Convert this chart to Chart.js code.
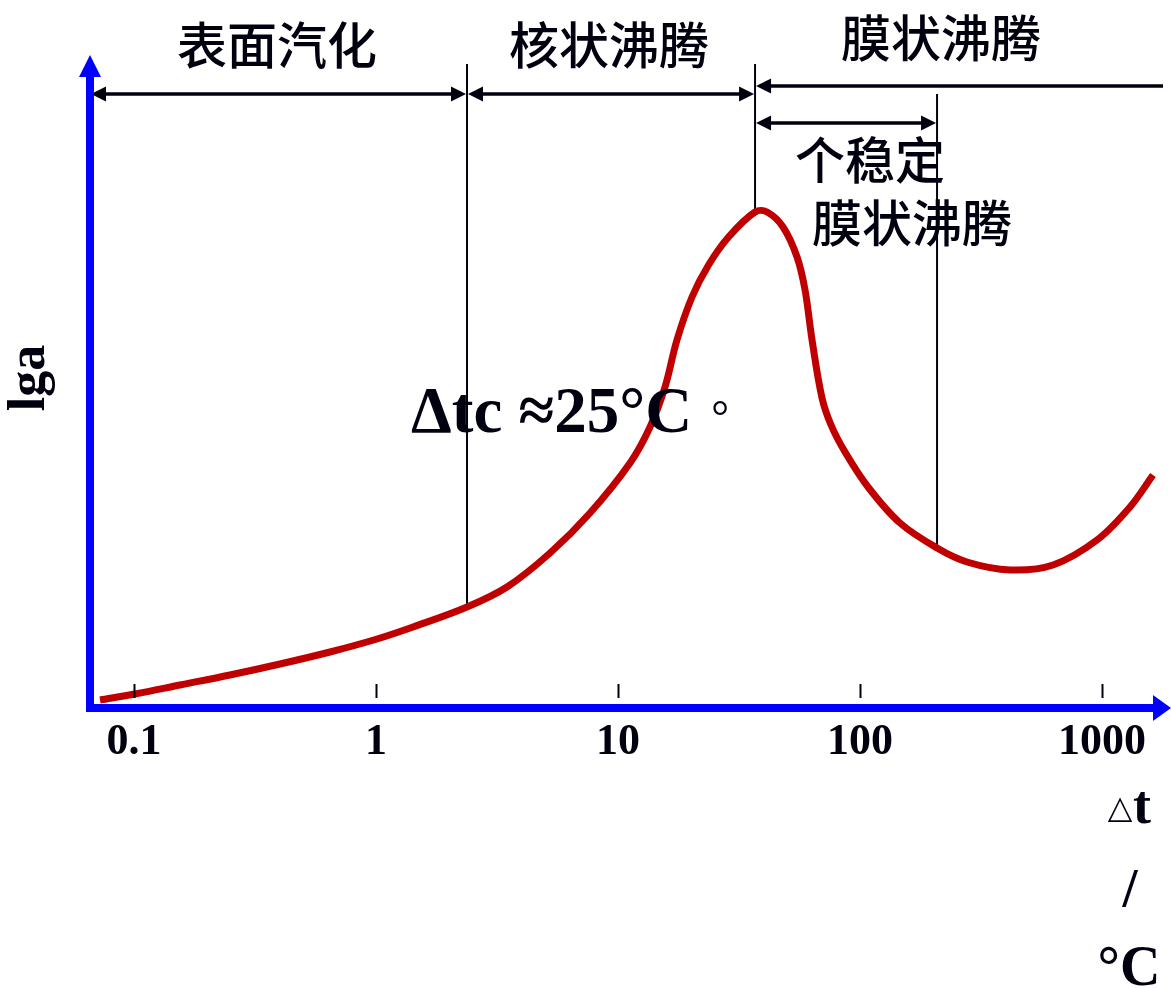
<!DOCTYPE html>
<html><head><meta charset="utf-8">
<script src="https://cdn.jsdelivr.net/npm/chart.js@4/dist/chart.umd.min.js"></script>
<style>html,body{margin:0;padding:0;background:#fff;}canvas{display:block;}</style>
</head><body>
<canvas id="c" width="1171" height="989"></canvas>
<script>
// ---- data ----
const deltaT = [0.0724,0.1009,0.1549,0.2492,0.4012,0.6455,1.01,1.422,2.377,3.478,5.236,7.66,11.21,13.56,15.64,17.52,20.22,23.66,28.62,36.83,41.28,48.07,54.93,59.27,63.35,69.66,75.9,86.7,107.9,146.3,208.1,276.8,416.7,627.3,953.4,1305,1624];
const lgAlpha = [0.5,1.1,2.0,3.0,4.1,5.3,6.6,7.8,9.8,11.8,15.2,19.2,24.2,27.8,31.8,36.5,40.8,44.0,46.8,49.3,49.3,47.8,44.8,41.5,36.5,30.7,28.0,25.3,21.8,18.2,15.7,14.3,13.5,14.0,16.5,19.8,23.0];
const tickValues = [0.1,1,10,100,1000];
const tickLabels = ['0.1','1','10','100','1000'];
const regionLabels = ['表面汽化','核状沸腾','膜状沸腾'];
const unstableLabel = ['个稳定','膜状沸腾'];
const boundaryValues = [2.377,36.83,208.1];
const criticalText = 'Δtc ≈25°C';
const yTitle = 'lga';
const xTitle = ['△t','/','°C'];
const xRange = [0.06579,1736];
const yRange = [0,65];

const INK = '#00000f';
const BLUE = '#0000ff';

function arrow(ctx,x1,x2,y,left,right){
  ctx.save();
  ctx.strokeStyle=INK;ctx.fillStyle=INK;ctx.lineWidth=3.5;
  ctx.beginPath();ctx.moveTo(x1+(left?6:0),y);ctx.lineTo(x2-(right?6:0),y);ctx.stroke();
  const L=15,H=7.5;
  if(left){ctx.beginPath();ctx.moveTo(x1,y);ctx.lineTo(x1+L,y-H);ctx.lineTo(x1+L,y+H);ctx.closePath();ctx.fill();}
  if(right){ctx.beginPath();ctx.moveTo(x2,y);ctx.lineTo(x2-L,y-H);ctx.lineTo(x2-L,y+H);ctx.closePath();ctx.fill();}
  ctx.restore();
}

const decor = {
  id:'decor',
  beforeDatasetsDraw(chart){
    const ctx=chart.ctx, xs=chart.scales.x, ys=chart.scales.y;
    const meta=chart.getDatasetMeta(0);
    const bx=boundaryValues.map(v=>xs.getPixelForValue(v));
    const bottoms=boundaryValues.map(v=>meta.data[deltaT.indexOf(v)].y);
    ctx.save();
    ctx.strokeStyle=INK;ctx.lineWidth=2;
    const tops=[ys.getPixelForValue(64.1),ys.getPixelForValue(64.1),ys.getPixelForValue(61.1)];
    for(let i=0;i<3;i++){ctx.beginPath();ctx.moveTo(bx[i],tops[i]);ctx.lineTo(bx[i],bottoms[i]);ctx.stroke();}
    ctx.restore();
    const yA=ys.getPixelForValue(61.1), yB=ys.getPixelForValue(61.9), yC=ys.getPixelForValue(58.2);
    const x0=chart.chartArea.left+1;
    arrow(ctx,x0,bx[0]-1,yA,true,true);
    arrow(ctx,bx[0]+1,bx[1]-1,yA,true,true);
    arrow(ctx,bx[1]+1,1163,yB,true,false);
    arrow(ctx,bx[1]+1,bx[2]-1,yC,true,true);
  },
  afterDraw(chart){
    const ctx=chart.ctx, xs=chart.scales.x;
    const a=chart.chartArea;
    ctx.save();
    // tick marks
    ctx.strokeStyle=INK;ctx.lineWidth=2;
    tickValues.forEach(v=>{const x=Math.round(xs.getPixelForValue(v))+0.5;ctx.beginPath();ctx.moveTo(x,684);ctx.lineTo(x,698);ctx.stroke();});
    // blue axes
    ctx.strokeStyle=BLUE;ctx.fillStyle=BLUE;ctx.lineWidth=8;
    ctx.beginPath();ctx.moveTo(a.left,712);ctx.lineTo(a.left,76);ctx.stroke();
    ctx.beginPath();ctx.moveTo(a.left-11,77);ctx.lineTo(a.left,55);ctx.lineTo(a.left+11,77);ctx.closePath();ctx.fill();
    ctx.beginPath();ctx.moveTo(a.left-4,708);ctx.lineTo(1155,708);ctx.stroke();
    ctx.beginPath();ctx.moveTo(1153,695);ctx.lineTo(1171,708);ctx.lineTo(1153,721);ctx.closePath();ctx.fill();
    // texts
    ctx.fillStyle=INK;ctx.textAlign='center';ctx.textBaseline='middle';
    ctx.font='500 50px "Noto Sans CJK SC"';
    ctx.fillText(regionLabels[0],277,45);
    ctx.fillText(regionLabels[1],609,45);
    ctx.fillText(regionLabels[2],941,38);
    ctx.fillText(unstableLabel[0],870,160);
    ctx.fillText(unstableLabel[1],912,223);
    ctx.textAlign='left';ctx.textBaseline='alphabetic';
    ctx.font='bold 65px "Liberation Serif"';
    ctx.fillText(criticalText,411,432);
    ctx.textAlign='center';ctx.textBaseline='middle';
    ctx.font='44px "Noto Sans CJK TC"';
    ctx.fillText('。',720,408);
    // y title
    ctx.save();ctx.translate(31,378);ctx.rotate(-Math.PI/2);
    ctx.font='bold 52px "Liberation Serif"';ctx.textAlign='center';ctx.textBaseline='middle';
    ctx.fillText(yTitle,0,0);ctx.restore();
    // x title
    ctx.textBaseline='alphabetic';
    ctx.font='32px "DejaVu Sans"';ctx.textAlign='center';
    ctx.fillText(xTitle[0].charAt(0),1120,818);
    ctx.font='bold 54px "Liberation Serif"';ctx.textAlign='left';
    ctx.fillText(xTitle[0].slice(1),1133,823);
    ctx.textAlign='center';
    ctx.font='bold 54px "Liberation Serif"';
    ctx.fillText(xTitle[1],1130,906);
    ctx.font='bold 56px "Liberation Serif"';
    ctx.fillText(xTitle[2],1129,985);
    ctx.restore();
  }
};

new Chart(document.getElementById('c'),{
  type:'line',
  data:{labels:deltaT,datasets:[{data:deltaT.map((x,i)=>({x:x,y:lgAlpha[i]})),borderColor:'#c00000',borderWidth:7,pointRadius:0,tension:0.35,fill:false,clip:false,borderCapStyle:'butt'}]},
  options:{
    responsive:false,animation:false,devicePixelRatio:1,
    layout:{padding:{left:90,right:11,top:55,bottom:0}},
    plugins:{legend:{display:false},tooltip:{enabled:false}},
    scales:{
      x:{type:'logarithmic',min:xRange[0],max:xRange[1],
         grid:{display:false,drawTicks:false},border:{display:false},
         afterBuildTicks:s=>{s.ticks=tickValues.map(v=>({value:v}));},
         afterFit:s=>{s.height=284;},
         ticks:{autoSkip:false,maxRotation:0,padding:11,color:INK,font:{family:'"Liberation Serif"',size:44,weight:'bold'},
                callback:(v)=>{const i=tickValues.indexOf(v);return i>=0?tickLabels[i]:'';}}},
      y:{type:'linear',display:false,min:yRange[0],max:yRange[1]}
    }
  },
  plugins:[decor]
});
</script>
</body></html>
